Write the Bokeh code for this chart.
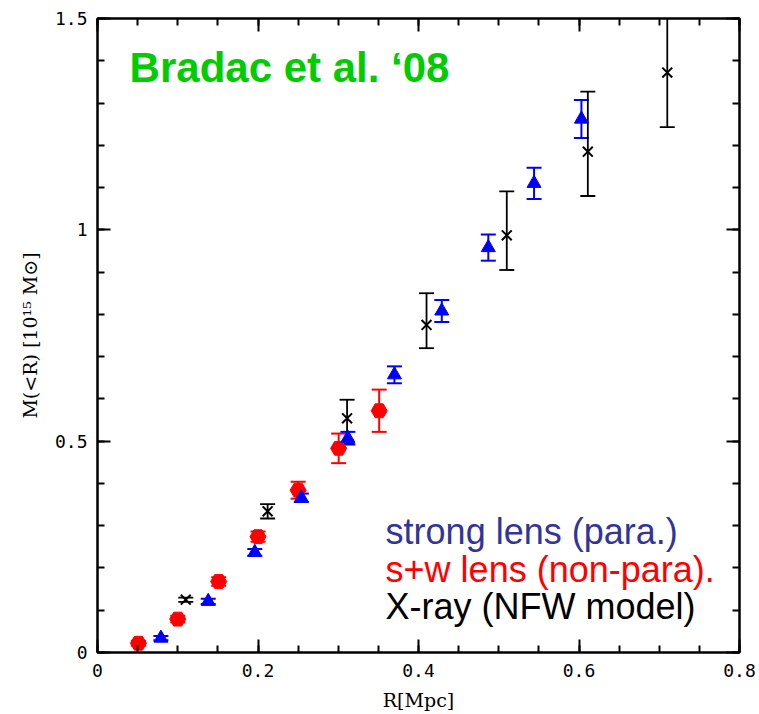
from bokeh.plotting import figure
from bokeh.models import (ColumnDataSource, Whisker, TeeHead, LinearAxis,
                          SingleIntervalTicker, CustomJSTickFormatter, Label)
from bokeh.embed import file_html
from bokeh.resources import INLINE

# strong lens (parametric) - blue triangles
strong_r = [0.079, 0.138, 0.196, 0.254, 0.312, 0.370, 0.429, 0.487, 0.544, 0.603]
strong_m = [0.034, 0.121, 0.237, 0.366, 0.507, 0.657, 0.808, 0.958, 1.110, 1.262]
strong_err = [0.005, 0.006, 0.008, 0.010, 0.015, 0.020, 0.026, 0.031, 0.037, 0.045]

# strong + weak lens (non-parametric) - red hexagons
sw_r = [0.051, 0.100, 0.151, 0.200, 0.250, 0.3005, 0.351]
sw_m = [0.022, 0.079, 0.168, 0.274, 0.384, 0.483, 0.572]
sw_err = [0.006, 0.008, 0.010, 0.012, 0.020, 0.035, 0.050]

# X-ray (NFW model) - black crosses
xray_r = [0.110, 0.212, 0.311, 0.410, 0.510, 0.611, 0.710]
xray_m = [0.125, 0.334, 0.554, 0.775, 0.987, 1.185, 1.372]
xray_lo = [0.120, 0.317, 0.495, 0.720, 0.905, 1.080, 1.243]
xray_hi = [0.130, 0.351, 0.598, 0.850, 1.091, 1.327, 1.520]

legend_lines = ["strong lens (para.)", "s+w lens (non-para).", "X-ray (NFW model)"]
title_text = "Bradac et al. \u201808"

p = figure(width=759, height=714, x_range=(0, 0.8), y_range=(0, 1.5),
           output_backend="svg", toolbar_location=None,
           min_border_left=97, min_border_right=20, min_border_top=18,
           min_border_bottom=62, background_fill_color="white",
           border_fill_color="white")
p.grid.visible = False
p.outline_line_color = "black"
p.outline_line_width = 2

xt = SingleIntervalTicker(interval=0.2, num_minor_ticks=4)
yt = SingleIntervalTicker(interval=0.5, num_minor_ticks=5)
fmt = CustomJSTickFormatter(code="return String(Math.round(tick*10)/10);")
blank = CustomJSTickFormatter(code="return '';")

tick_font = "DejaVu Sans Mono"
label_font = "DejaVu Serif"

def style(ax, show):
    ax.axis_line_width = 2
    ax.axis_line_color = "black"
    ax.major_tick_in = 13
    ax.major_tick_out = 0
    ax.minor_tick_in = 7
    ax.minor_tick_out = 0
    ax.major_tick_line_width = 2
    ax.minor_tick_line_width = 2
    ax.major_label_text_font = tick_font
    ax.major_label_text_font_style = "normal"
    ax.major_label_text_color = "black"
    if show:
        ax.major_label_text_font_size = "18px"
    else:
        ax.major_label_text_font_size = "1px"
        ax.major_label_standoff = 0

p.xaxis.ticker = xt
p.yaxis.ticker = yt
p.xaxis.formatter = fmt
p.yaxis.formatter = fmt
for ax in p.xaxis + p.yaxis:
    style(ax, True)
p.xaxis.major_label_standoff = 11
p.yaxis.major_label_standoff = 10
p.xaxis.axis_label = "R[Mpc]"
p.yaxis.axis_label = "M(<R) [10\u00b9\u2075 M\u2299]"
for ax in p.xaxis + p.yaxis:
    ax.axis_label_text_font = label_font
    ax.axis_label_text_font_style = "normal"
    ax.axis_label_text_font_size = "19px"
    ax.axis_label_text_color = "black"
p.xaxis.axis_label_standoff = 9
p.yaxis.axis_label_standoff = 11

top = LinearAxis(ticker=SingleIntervalTicker(interval=0.2, num_minor_ticks=4), formatter=blank)
right = LinearAxis(ticker=SingleIntervalTicker(interval=0.5, num_minor_ticks=5), formatter=blank)
style(top, False)
style(right, False)
p.add_layout(top, "above")
p.add_layout(right, "right")

def add_err(x, lo, hi, color, width):
    src = ColumnDataSource(dict(x=x, lo=lo, hi=hi))
    w = Whisker(source=src, base="x", lower="lo", upper="hi",
                line_color=color, line_width=width,
                upper_head=TeeHead(size=15, line_color=color, line_width=width),
                lower_head=TeeHead(size=15, line_color=color, line_width=width))
    p.add_layout(w)

add_err(sw_r, [m - e for m, e in zip(sw_m, sw_err)],
        [m + e for m, e in zip(sw_m, sw_err)], "#FF0000", 2)
add_err(strong_r, [m - e for m, e in zip(strong_m, strong_err)],
        [m + e for m, e in zip(strong_m, strong_err)], "#0000FF", 2)
add_err(xray_r, xray_lo, xray_hi, "black", 1.8)

p.scatter(sw_r, sw_m, marker="hex", size=16, fill_color="#FF0000",
          line_color="#FF0000")
p.scatter(strong_r, strong_m, marker="triangle", size=14, fill_color="#0000FF",
          line_color="#0000FF")
p.scatter(xray_r, xray_m, marker="x", size=14, line_color="black", line_width=2)

p.add_layout(Label(x=0.040, y=1.384, text=title_text, text_font="Liberation Sans",
                   text_font_style="bold", text_font_size="42px",
                   text_color="#00CC00", text_baseline="alphabetic"))

leg_colors = ["#333399", "#FF0000", "black"]
leg_y = [0.286, 0.196, 0.109]
for t, c, yy in zip(legend_lines, leg_colors, leg_y):
    p.add_layout(Label(x=0.359, y=yy, text=t, text_font="Liberation Sans",
                       text_font_size="36px", text_color=c,
                       text_baseline="alphabetic"))

open("out.html", "w").write(file_html(p, INLINE))
